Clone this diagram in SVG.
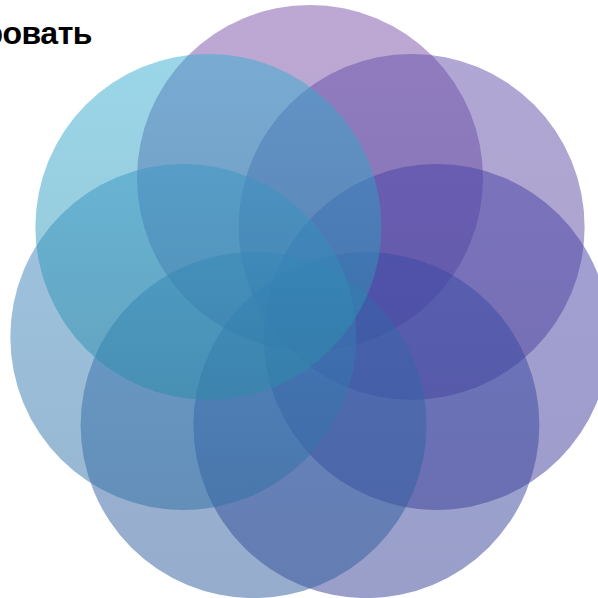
<svg xmlns="http://www.w3.org/2000/svg" width="598" height="598" viewBox="0 0 598 598">
  <defs>
    <linearGradient id="g1" x1="0" y1="0" x2="0" y2="1">
      <stop offset="0" stop-color="#7a51a8"/>
      <stop offset="1" stop-color="#6a4c9c"/>
    </linearGradient>
    <linearGradient id="g2" x1="0" y1="0" x2="0" y2="1">
      <stop offset="0" stop-color="#634ea9"/>
      <stop offset="1" stop-color="#56469a"/>
    </linearGradient>
    <linearGradient id="g3" x1="0" y1="0" x2="0" y2="1">
      <stop offset="0" stop-color="#4641a8"/>
      <stop offset="1" stop-color="#3d3a97"/>
    </linearGradient>
    <linearGradient id="g4" x1="0" y1="0" x2="0" y2="1">
      <stop offset="0" stop-color="#3a4aa6"/>
      <stop offset="1" stop-color="#333f93"/>
    </linearGradient>
    <linearGradient id="g5" x1="0" y1="0" x2="0" y2="1">
      <stop offset="0" stop-color="#3569ad"/>
      <stop offset="1" stop-color="#2e5a9a"/>
    </linearGradient>
    <linearGradient id="g6" x1="0" y1="0" x2="0" y2="1">
      <stop offset="0" stop-color="#3f8ac3"/>
      <stop offset="1" stop-color="#2f6fa3"/>
    </linearGradient>
    <linearGradient id="g7" x1="0" y1="0" x2="0" y2="1">
      <stop offset="0" stop-color="#36aed2"/>
      <stop offset="1" stop-color="#2b8aa8"/>
    </linearGradient>
  </defs>
  <style>
    .c { opacity: 0.5; }
    .t { font-family: "Liberation Sans", Arial, sans-serif; font-weight: bold; font-size: 32px; fill: #000000; }
  </style>
  <text class="t" x="92" y="44" text-anchor="end" letter-spacing="-0.5">ровать</text>
  <g id="circle-top" class="c"><circle cx="310" cy="178" r="173" fill="url(#g1)"/></g>
  <g id="circle-top-right" class="c"><circle cx="411.6" cy="226.9" r="173" fill="url(#g2)"/></g>
  <g id="circle-right" class="c"><circle cx="436.7" cy="337" r="173" fill="url(#g3)"/></g>
  <g id="circle-bottom-right" class="c"><circle cx="366.4" cy="425.1" r="173" fill="url(#g4)"/></g>
  <g id="circle-bottom-left" class="c"><circle cx="253.6" cy="425.1" r="173" fill="url(#g5)"/></g>
  <g id="circle-left" class="c"><circle cx="183.3" cy="337" r="173" fill="url(#g6)"/></g>
  <g id="circle-top-left" class="c"><circle cx="208.4" cy="226.9" r="173" fill="url(#g7)"/></g>
</svg>
